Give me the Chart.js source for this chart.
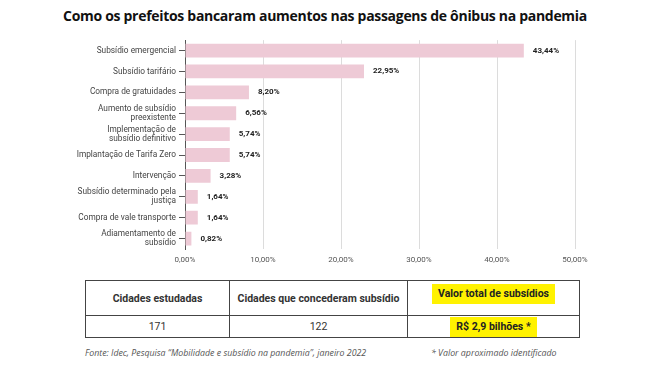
<!DOCTYPE html>
<html>
<head>
<meta charset="utf-8">
<script src="https://cdn.jsdelivr.net/npm/chart.js@4.4.1/dist/chart.umd.min.js"></script>
<style>
  html, body { margin: 0; padding: 0; background: #fff; }
  #wrap { position: relative; width: 650px; height: 365px; overflow: hidden; }
  #title {
    position: absolute; left: 0; top: 6px; width: 650px; text-align: center;
    font: bold 14px "Open Sans", sans-serif; color: #111; letter-spacing: -0.3px;
  }
  #chartBox { position: absolute; left: 0; top: 28px; width: 650px; height: 240px; }
  table.resumo {
    position: absolute; left: 85px; top: 280px; width: 495px; border-collapse: collapse;
    font-family: Roboto, sans-serif; color: #333;
  }
  table.resumo td { border: 1.5px solid #444; text-align: center; font-size: 10.5px; padding: 0; vertical-align: middle; }
  table.resumo tr.head td { height: 34px; font-weight: bold; }
  table.resumo tr.vals td { height: 21px; }
  .hl { background: #fff200; padding: 3px 6px 4px; font-weight: bold; color: #222; position: relative; }
  .foot { position: absolute; top: 347px; font: italic 8.8px "Open Sans", sans-serif; color: #555; }
</style>
</head>
<body>
<div id="wrap">
  <div id="title">Como os prefeitos bancaram aumentos nas passagens de ônibus na pandemia</div>
  <div id="chartBox"><canvas id="grafico"></canvas></div>
  <table class="resumo">
    <tr class="head">
      <td style="width:143px">Cidades estudadas</td>
      <td style="width:177px">Cidades que concederam subsídio</td>
      <td><span class="hl" style="top:-5px">Valor total de subsídios</span></td>
    </tr>
    <tr class="vals">
      <td>171</td>
      <td>122</td>
      <td><span class="hl">R$ 2,9 bilhões *</span></td>
    </tr>
  </table>
  <div class="foot" style="left:85px">Fonte: Idec, Pesquisa “Mobilidade e subsídio na pandemia”, janeiro 2022</div>
  <div class="foot" style="left:431px">* Valor aproximado identificado</div>
</div>

<script>
// categorias e valores (%)
const categorias = [
  'Subsídio emergencial',
  'Subsídio tarifário',
  'Compra de gratuidades',
  ['Aumento de subsídio', 'preexistente'],
  ['Implementação de', 'subsídio definitivo'],
  'Implantação de Tarifa Zero',
  'Intervenção',
  ['Subsídio determinado pela', 'justiça'],
  'Compra de vale transporte',
  ['Adiamentamento de', 'subsídio']
];
const percentuais = [43.44, 22.95, 8.20, 6.56, 5.74, 5.74, 3.28, 1.64, 1.64, 0.82];
const ticksX = [0, 10, 20, 30, 40, 50];

function fmt(v) {
  return v.toFixed(2).replace('.', ',') + '%';
}

// rotulos de valor ao lado das barras
const rotulos = {
  id: 'rotulos',
  afterDatasetsDraw(chart) {
    const ctx = chart.ctx;
    const meta = chart.getDatasetMeta(0);
    ctx.save();
    ctx.font = 'bold 8px Roboto, sans-serif';
    ctx.fillStyle = '#222';
    ctx.textBaseline = 'middle';
    meta.data.forEach(function (bar, i) {
      ctx.fillText(fmt(percentuais[i]), bar.x + 9, bar.y);
    });
    ctx.restore();
  }
};

new Chart(document.getElementById('grafico'), {
  type: 'bar',
  data: {
    labels: categorias,
    datasets: [{
      data: percentuais,
      backgroundColor: '#eecad6',
      categoryPercentage: 1,
      barPercentage: 0.66
    }]
  },
  options: {
    indexAxis: 'y',
    responsive: true,
    maintainAspectRatio: false,
    animation: false,
    layout: { padding: { top: 9, right: 75, left: 0, bottom: 0 } },
    plugins: { legend: { display: false }, tooltip: { enabled: false } },
    scales: {
      x: {
        min: 0,
        max: 50,
        afterBuildTicks(scale) {
          scale.ticks = ticksX.map(function (v) { return { value: v }; });
        },
        afterFit(scale) { scale.height = 19; },
        grid: { color: '#dcdcdc', drawTicks: false, lineWidth: 1 },
        border: { display: false },
        ticks: {
          padding: 6,
          color: '#555',
          font: { family: 'Roboto', size: 8 },
          callback: function (v) { return fmt(v); }
        }
      },
      y: {
        afterFit(scale) { scale.width = 185; },
        grid: { drawOnChartArea: false, drawTicks: true, tickLength: 6, offset: false, color: '#555' },
        border: { display: true, color: '#555', width: 1 },
        ticks: {
          padding: 3,
          color: '#444',
          font: { family: 'Roboto', size: 8.3, lineHeight: 1.1 },
          autoSkip: false
        }
      }
    }
  },
  plugins: [rotulos]
});
</script>
</body>
</html>
